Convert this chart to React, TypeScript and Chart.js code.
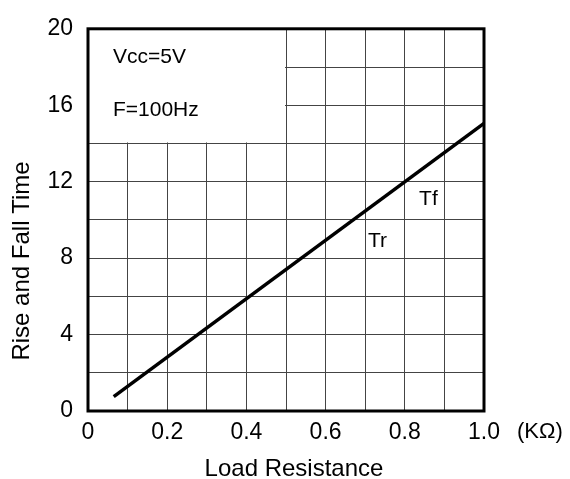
import React, { useEffect, useRef } from "react";
import { Chart, registerables } from "chart.js";

Chart.register(...registerables);

const loadResistance = [0.065, 1.0];
const riseFallTime = [0.75, 15.05];
const xTickLabels = ["0", "0.2", "0.4", "0.6", "0.8", "1.0"];
const yTickLabels = ["0", "4", "8", "12", "16", "20"];
const notes = ["Vcc=5V", "F=100Hz", "Tf", "Tr"];
const noteX = [0.063, 0.063, 0.836, 0.707];
const noteY = [18.2, 15.45, 10.8, 8.6];
const legendBox = { x0: 0, x1: 0.5, y0: 14, y1: 20 };

const FONT = "'Liberation Sans', Arial, sans-serif";

const drawPlugin = {
  id: "decor",
  beforeDatasetsDraw(chart: any) {
    const { ctx, scales } = chart;
    const x = scales.x, y = scales.y;
    const l = x.getPixelForValue(legendBox.x0) + 1;
    const r = x.getPixelForValue(legendBox.x1) - 1;
    const t = y.getPixelForValue(legendBox.y1);
    const b = y.getPixelForValue(legendBox.y0) - 1;
    ctx.save();
    ctx.fillStyle = "#ffffff";
    ctx.fillRect(l, t, r - l, b - t);
    ctx.restore();
  },
  afterDraw(chart: any) {
    const { ctx, chartArea, scales } = chart;
    const x = scales.x, y = scales.y;
    ctx.save();
    ctx.strokeStyle = "#000";
    ctx.lineWidth = 3;
    ctx.strokeRect(chartArea.left, chartArea.top, chartArea.right - chartArea.left, chartArea.bottom - chartArea.top);
    ctx.fillStyle = "#000";
    ctx.font = `21px ${FONT}`;
    ctx.textAlign = "left";
    ctx.textBaseline = "alphabetic";
    notes.forEach((n, i) => {
      ctx.fillText(n, x.getPixelForValue(noteX[i]), y.getPixelForValue(noteY[i]));
    });
    ctx.font = `22px ${FONT}`;
    ctx.fillText("(KΩ)", chartArea.right + 33, 438);
    ctx.font = `24px ${FONT}`;
    ctx.textAlign = "center";
    ctx.fillText("Load Resistance", 294, 476);
    ctx.translate(29, 261);
    ctx.rotate(-Math.PI / 2);
    ctx.fillText("Rise and Fall Time", 0, 0);
    ctx.restore();
  },
};

export default function App() {
  const ref = useRef<HTMLCanvasElement>(null);
  useEffect(() => {
    if (!ref.current) return;
    const chart = new Chart(ref.current, {
      type: "line",
      data: {
        datasets: [
          {
            data: loadResistance.map((v, i) => ({ x: v, y: riseFallTime[i] })),
            borderColor: "#000",
            borderWidth: 3.5,
            pointRadius: 0,
            fill: false,
          },
        ],
      },
      options: {
        animation: false,
        responsive: false,
        maintainAspectRatio: false,
        layout: { padding: { left: 0, right: 86, top: 16, bottom: 0 } },
        plugins: { legend: { display: false }, tooltip: { enabled: false }, title: { display: false } },
        scales: {
          x: {
            type: "linear",
            min: 0,
            max: 1,
            afterFit(s: any) { s.height = 479 - 411; },
            border: { display: false },
            grid: { color: "#444", lineWidth: 1, drawTicks: false },
            ticks: {
              stepSize: 0.1,
              padding: 8,
              color: "#000",
              maxRotation: 0,
              autoSkip: false,
              font: { size: 23, family: FONT },
              callback: (v: any) => {
                const k = Math.round(Number(v) * 10);
                return k % 2 === 0 ? xTickLabels[k / 2] : "";
              },
            },
          },
          y: {
            type: "linear",
            min: 0,
            max: 20,
            afterFit(s: any) { s.width = 88; },
            border: { display: false },
            grid: { color: "#444", lineWidth: 1, drawTicks: false },
            ticks: {
              stepSize: 2,
              padding: 15,
              color: "#000",
              autoSkip: false,
              font: { size: 23, family: FONT },
              callback: (v: any) => {
                const n = Math.round(Number(v));
                return n % 4 === 0 ? yTickLabels[n / 4] : "";
              },
            },
          },
        },
      },
      plugins: [drawPlugin],
    });
    return () => chart.destroy();
  }, []);
  return (
    <div style={{ position: "fixed", left: 0, top: 0, width: 570, height: 479, background: "#fff" }}>
      <canvas ref={ref} width={570} height={479} style={{ width: 570, height: 479 }} />
    </div>
  );
}
